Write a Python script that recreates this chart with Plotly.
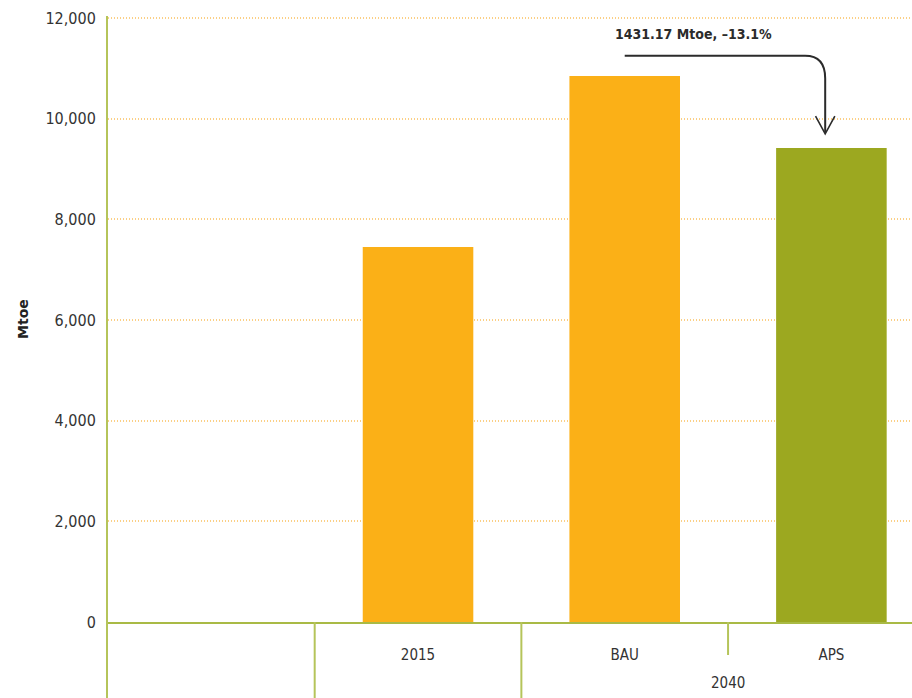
import plotly.graph_objects as go

# Total primary energy supply, Mtoe
groups = ["", "", "2040", "2040"]
scenarios = [" ", "2015", "BAU", "APS"]
bau_value = 10850
saving = 1431.17
values = [None, 7452, bau_value, bau_value - saving]
bar_colors = ["#FBB017", "#FBB017", "#FBB017", "#9CA820"]
y_ticks = [0, 2000, 4000, 6000, 8000, 10000, 12000]
y_tick_text = ["0", "2,000", "4,000", "6,000", "8,000", "10,000", "12,000"]
note_text = "1431.17 Mtoe, \u201313.1%"

FONT = "Liberation Sans Narrow, DejaVu Sans Condensed, Arial Narrow, sans-serif"
AXIS_GREEN = "#B5C45A"

x_range = [-0.5, 3.39]
y_range = [0, 12040]
plot_h = 698 - 16 - 76
plot_w = 912 - 108


def to_paper(idx):
    return (idx - x_range[0]) / (x_range[1] - x_range[0])


fig = go.Figure()
fig.add_trace(go.Bar(
    x=scenarios,
    y=values,
    marker=dict(color=bar_colors, line=dict(width=0)),
    width=0.535,
    showlegend=False,
    hoverinfo="y",
))

# Category boundaries: full-depth lines where the group changes,
# short ticks between members of the same group
for i in range(len(groups)):
    bx = to_paper(i - 0.5)
    full = i == 0 or groups[i] != groups[i - 1] or groups[i] == ""
    depth = 80 if full else 33
    if i == 0:
        bx -= 1 / plot_w  # sit flush with the value axis line
    fig.add_shape(
        type="line", xref="paper", yref="paper",
        x0=bx, x1=bx, y0=0, y1=-depth / plot_h,
        line=dict(color=AXIS_GREEN, width=2),
    )

# Group labels centred under their members
seen = []
for g in groups:
    if g and g not in seen:
        seen.append(g)
        idx = [i for i, v in enumerate(groups) if v == g]
        fig.add_annotation(
            xref="x", yref="paper",
            x=sum(idx) / len(idx), y=-61 / plot_h,
            text=g, showarrow=False, yanchor="middle",
            font=dict(family=FONT, size=15, color="#333333"),
        )

# Arrow from the BAU level down to the APS bar
x_start = to_paper(2)
x_end = to_paper(2.97)
y_line = 11250
bend_dx = 0.025
bend_dy = 450
fig.add_shape(
    type="path",
    xref="paper", yref="y",
    path=(f"M {x_start},{y_line} L {x_end - bend_dx},{y_line} "
          f"Q {x_end},{y_line} {x_end},{y_line - bend_dy} L {x_end},{9730}"),
    line=dict(color="#2b2b2b", width=2),
)
# open arrowhead drawn as a V
head_dx = 0.012
fig.add_shape(
    type="path", xref="paper", yref="y",
    path=(f"M {x_end - head_dx},{10050} L {x_end},{9700} L {x_end + head_dx},{10050}"),
    line=dict(color="#2b2b2b", width=1.6),
)
fig.add_annotation(
    xref="paper", yref="y",
    x=(x_start + to_paper(2.67)) / 2, y=11680,
    xanchor="center",
    text=f"<b>{note_text}</b>", showarrow=False,
    font=dict(family=FONT, size=14, color="#2b2b2b"),
)

fig.update_layout(
    width=912, height=698,
    margin=dict(l=108, r=0, t=16, b=76),
    paper_bgcolor="white", plot_bgcolor="white",
    bargap=0.465,
    font=dict(family=FONT, size=15, color="#333333"),
    xaxis=dict(
        type="category",
        categoryorder="array", categoryarray=scenarios,
        range=x_range,
        showline=True, linecolor="#A9BA45", linewidth=2,
        ticks="",
        showgrid=False,
        ticklabelstandoff=18,
        tickfont=dict(family=FONT, size=15, color="#333333"),
    ),
    yaxis=dict(
        range=y_range,
        tickvals=y_ticks, ticktext=y_tick_text,
        showgrid=True, gridcolor="#FBCF85", gridwidth=2, griddash="1px,2px",
        zeroline=False,
        showline=True, linecolor=AXIS_GREEN, linewidth=2,
        ticks="", ticklabelstandoff=7,
        tickfont=dict(family=FONT, size=16, color="#333333"),
        title=dict(text="<b>Mtoe</b>", standoff=14,
                   font=dict(family="DejaVu Sans, sans-serif", size=14, color="#222222")),
    ),
)

fig.write_html("out.html")
